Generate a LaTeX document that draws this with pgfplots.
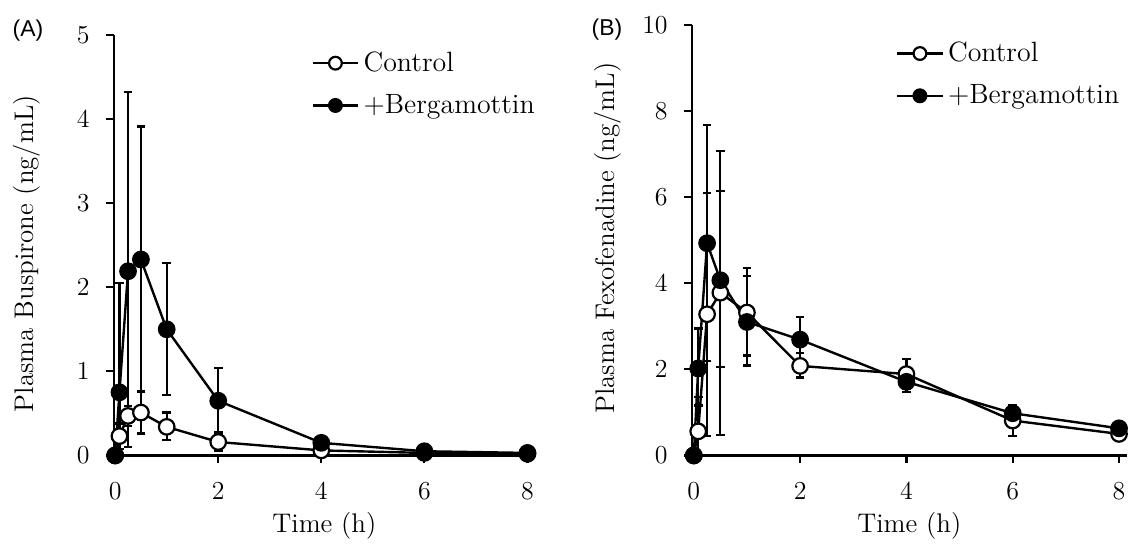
\documentclass[border=0pt]{standalone}
\usepackage{fontspec}
\newfontfamily\panelfont{Liberation Sans}
\usepackage{pgfplots}
\pgfplotsset{compat=1.18}

\pgfplotsset{
  pk/.style={
    scale only axis, axis lines=left, axis line style={-, line width=1.1pt},
    tick align=outside, major tick length=4pt, tick style={line width=1.1pt, black},
    ymin=0, xtick={0,2,4,6,8},
    /pgf/number format/assume math mode=true,
    tick label style={font=\fontsize{13}{15}\selectfont},
    xticklabel style={yshift=-6pt},
    yticklabel style={xshift=-4.5pt},
    label style={font=\fontsize{13.5}{16}\selectfont},
    xlabel={Time (h)},
    legend cell align=left,
    legend image code/.code={\draw[mark repeat=2,mark phase=2,#1,mark size=3.2pt]
      plot coordinates {(0pt,0pt) (11.5pt,0pt) (23pt,0pt)};},
    legend style={draw=none, fill=none, inner sep=0pt, row sep=6pt,
      font=\fontsize{14}{16}\selectfont,
      at={(axis description cs:0.468,0.97)}, anchor=north west},
  },
  ctrl/.style={black, line width=1.2pt, mark=*, mark size=3.9pt,
    mark options={fill=white, line width=1.1pt},
    error bars/.cd, y dir=both, y explicit,
    error bar style={line width=1.1pt},
    error mark options={line width=1.1pt, mark size=2.2pt, rotate=90}},
  berg/.style={black, line width=1.2pt, mark=*, mark size=3.9pt,
    mark options={fill=black, line width=1.1pt},
    error bars/.cd, y dir=both, y explicit,
    error bar style={line width=1.1pt},
    error mark options={line width=1.1pt, mark size=2.2pt, rotate=90}},
}

\begin{document}
\begin{tikzpicture}
  \path (0,0) rectangle (566pt,268pt);

  % panel A
  \begin{axis}[pk, at={(57pt,39.5pt)}, anchor=south west,
      width=211.5pt, height=211pt,
      xmin=-0.03, xmax=8.15, ymax=5, ytick={0,1,2,3,4,5},
      ylabel={Plasma Buspirone (ng/mL)},
      ylabel style={at={(axis description cs:-0.206,0.48)}, anchor=center},
      xlabel style={at={(axis description cs:0.5,-0.168)}, anchor=center},
    ]
    \addplot+[ctrl] coordinates {
      (0,0) +=(0,0) -=(0,0)
      (0.083,0.23) +=(0,0.15) -=(0,0.15)
      (0.25,0.47) +=(0,0.12) -=(0,0.12)
      (0.5,0.51) +=(0,0.25) -=(0,0.25)
      (1,0.34) +=(0,0.17) -=(0,0.16)
      (2,0.16) +=(0,0.10) -=(0,0.10)
      (4,0.06) +=(0,0.03) -=(0,0.03)
      (6,0.03) +=(0,0.02) -=(0,0.02)
      (8,0.02) +=(0,0.01) -=(0,0.01)
    };
    \addplot+[berg] coordinates {
      (0,0) +=(0,0) -=(0,0)
      (0.083,0.75) +=(0,1.30) -=(0,0.75)
      (0.25,2.19) +=(0,2.13) -=(0,2.09)
      (0.5,2.33) +=(0,1.58) -=(0,1.57)
      (1,1.50) +=(0,0.79) -=(0,0.78)
      (2,0.65) +=(0,0.39) -=(0,0.37)
      (4,0.15) +=(0,0.04) -=(0,0.04)
      (6,0.05) +=(0,0.02) -=(0,0.02)
      (8,0.03) +=(0,0.01) -=(0,0.01)
    };
    \legend{Control, +Bergamottin}
  \end{axis}

  % panel B
  \begin{axis}[pk, at={(347pt,39.5pt)}, anchor=south west,
      width=218.4pt, height=216pt,
      xmin=-0.04, xmax=8.15, ymax=10, ytick={0,2,4,6,8,10},
      ylabel={Plasma Fexofenadine (ng/mL)},
      ylabel style={at={(axis description cs:-0.193,0.505)}, anchor=center},
      xlabel style={at={(axis description cs:0.5,-0.164)}, anchor=center},
    ]
    \addplot+[ctrl] coordinates {
      (0,0) +=(0,0) -=(0,0)
      (0.083,0.56) +=(0,0.79) -=(0,0.56)
      (0.25,3.28) +=(0,2.82) -=(0,2.83)
      (0.5,3.78) +=(0,2.37) -=(0,1.73)
      (1,3.32) +=(0,1.04) -=(0,1.00)
      (2,2.08) +=(0,0.30) -=(0,0.27)
      (4,1.89) +=(0,0.35) -=(0,0.35)
      (6,0.81) +=(0,0.20) -=(0,0.35)
      (8,0.50) +=(0,0.10) -=(0,0.10)
    };
    \addplot+[berg] coordinates {
      (0,0) +=(0,0) -=(0,0)
      (0.083,2.02) +=(0,0.93) -=(0,0.86)
      (0.25,4.93) +=(0,2.74) -=(0,2.74)
      (0.5,4.07) +=(0,3.00) -=(0,3.60)
      (1,3.10) +=(0,1.07) -=(0,1.01)
      (2,2.69) +=(0,0.53) -=(0,0.50)
      (4,1.71) +=(0,0.24) -=(0,0.24)
      (6,0.98) +=(0,0.18) -=(0,0.18)
      (8,0.63) +=(0,0.08) -=(0,0.08)
    };
    \legend{Control, +Bergamottin}
  \end{axis}

  \node[font=\panelfont\fontsize{11.5}{13}\selectfont] at (14pt,252.5pt) {(A)};
  \node[font=\panelfont\fontsize{11.5}{13}\selectfont] at (304.5pt,253pt) {(B)};
\end{tikzpicture}
\end{document}
